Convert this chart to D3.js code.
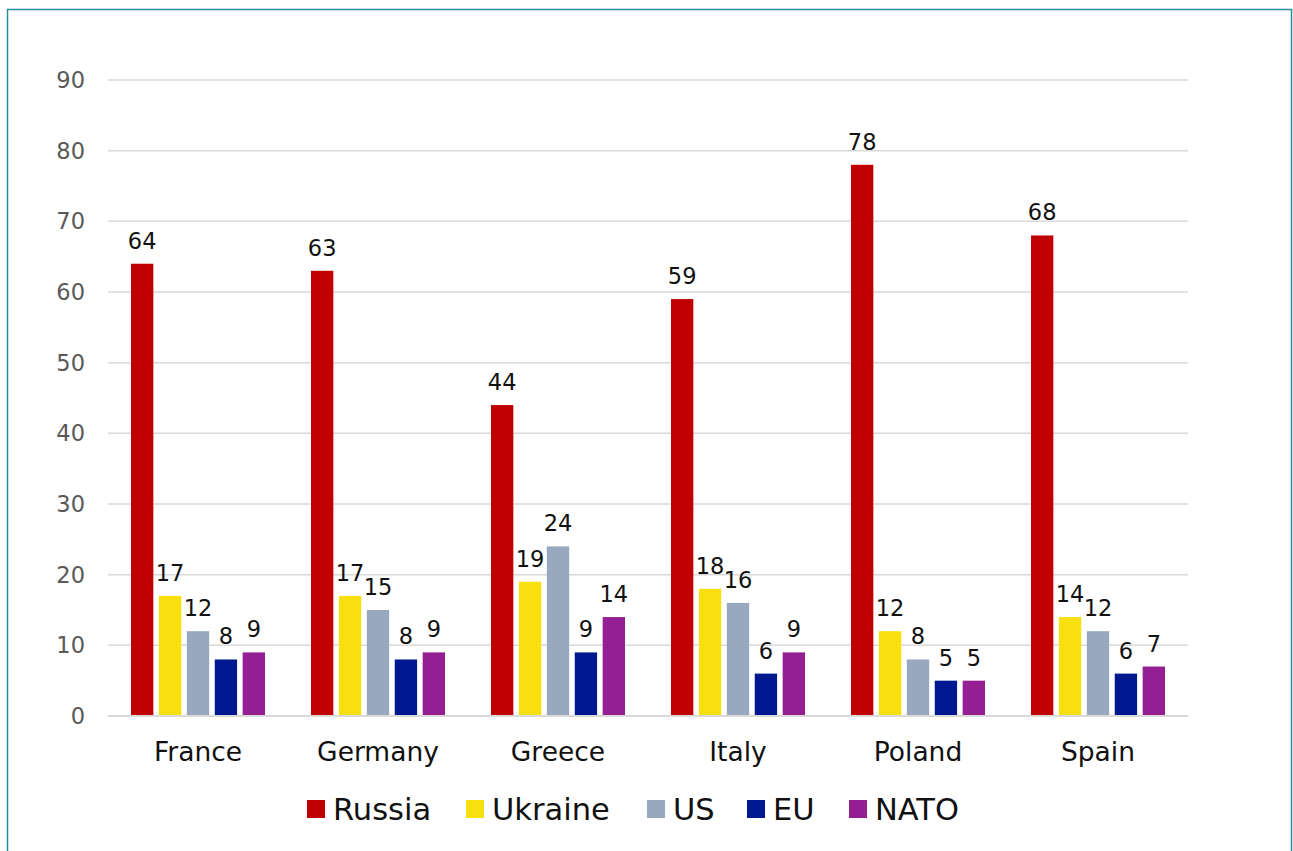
<!DOCTYPE html>
<html>
<head>
<meta charset="utf-8">
<script src="https://cdn.jsdelivr.net/npm/d3@7"></script>
<style>
  html, body { margin: 0; padding: 0; background: #ffffff; }
  svg { display: block; }
</style>
</head>
<body>
<svg id="chart" width="1293" height="851"></svg>
<script>
const categories = ["France", "Germany", "Greece", "Italy", "Poland", "Spain"];
const seriesNames = ["Russia", "Ukraine", "US", "EU", "NATO"];
const russia  = [64, 63, 44, 59, 78, 68];
const ukraine = [17, 17, 19, 18, 12, 14];
const us      = [12, 15, 24, 16, 8, 12];
const eu      = [8, 8, 9, 6, 5, 6];
const nato    = [9, 9, 14, 9, 5, 7];
const yTicks  = [0, 10, 20, 30, 40, 50, 60, 70, 80, 90];
const colors  = ["#c00000", "#f8e00f", "#98a8bf", "#00188f", "#941f92"];

const seriesValues = [russia, ukraine, us, eu, nato];
const FONT = "'DejaVu Sans', sans-serif";

const svg = d3.select("#chart");

// outer frame
svg.append("path")
  .attr("d", "M7.5,860 V9.5 H1291.5 V860")
  .attr("fill", "none")
  .attr("stroke", "#2b8c9b")
  .attr("stroke-width", 1.5);

const plotLeft = 108, plotRight = 1188, plotTop = 80, plotBottom = 716;

const x0 = d3.scaleBand().domain(categories).range([plotLeft, plotRight]).paddingInner(0).paddingOuter(0);
const x1 = d3.scaleBand().domain(seriesNames).range([23, x0.bandwidth() - 23]).paddingInner(0.2).paddingOuter(0);
const y = d3.scaleLinear().domain([0, 90]).range([plotBottom, plotTop]);

// gridlines
svg.append("g").selectAll("line").data(yTicks.filter(d => d > 0)).join("line")
  .attr("x1", plotLeft).attr("x2", plotRight)
  .attr("y1", d => y(d)).attr("y2", d => y(d))
  .attr("stroke", "#d9d9d9").attr("stroke-width", 1.5);

// y tick labels
svg.append("g").selectAll("text").data(yTicks).join("text")
  .attr("x", 85).attr("y", d => y(d) + 8)
  .attr("text-anchor", "end")
  .attr("font-family", FONT).attr("font-size", 22.5)
  .attr("fill", "#595959")
  .text(d => d);

// bars
const groups = svg.append("g").selectAll("g").data(categories).join("g")
  .attr("transform", c => `translate(${x0(c)},0)`);

groups.each(function(c, ci) {
  const g = d3.select(this);
  const data = seriesNames.map((s, si) => ({ s, si, v: seriesValues[si][ci] }));
  g.selectAll("rect").data(data).join("rect")
    .attr("x", d => x1(d.s))
    .attr("width", x1.bandwidth())
    .attr("y", d => y(d.v))
    .attr("height", d => y(0) - y(d.v))
    .attr("fill", d => colors[d.si]);
  g.selectAll("text").data(data).join("text")
    .attr("x", d => x1(d.s) + x1.bandwidth() / 2)
    .attr("y", d => y(d.v) - 15)
    .attr("text-anchor", "middle")
    .attr("font-family", FONT).attr("font-size", 22.5)
    .attr("fill", "#111")
    .text(d => d.v);
});

// x axis baseline
svg.append("line")
  .attr("x1", plotLeft).attr("x2", plotRight)
  .attr("y1", plotBottom).attr("y2", plotBottom)
  .attr("stroke", "#d9d9d9").attr("stroke-width", 2);

// category labels
svg.append("g").selectAll("text").data(categories).join("text")
  .attr("x", c => x0(c) + x0.bandwidth() / 2)
  .attr("y", 761)
  .attr("text-anchor", "middle")
  .attr("font-family", FONT).attr("font-size", 26.5)
  .attr("fill", "#111")
  .text(c => c);

// legend
const legendX = [307, 466, 647, 747, 849];
const legend = svg.append("g").selectAll("g").data(seriesNames).join("g")
  .attr("transform", (s, i) => `translate(${legendX[i]},809)`);
legend.append("rect")
  .attr("x", 0).attr("y", -9).attr("width", 18).attr("height", 18)
  .attr("fill", (s, i) => colors[i]);
legend.append("text")
  .attr("x", 26).attr("y", 10.5)
  .attr("font-family", FONT).attr("font-size", 30.5)
  .attr("fill", "#111")
  .text(s => s);
</script>
</body>
</html>
